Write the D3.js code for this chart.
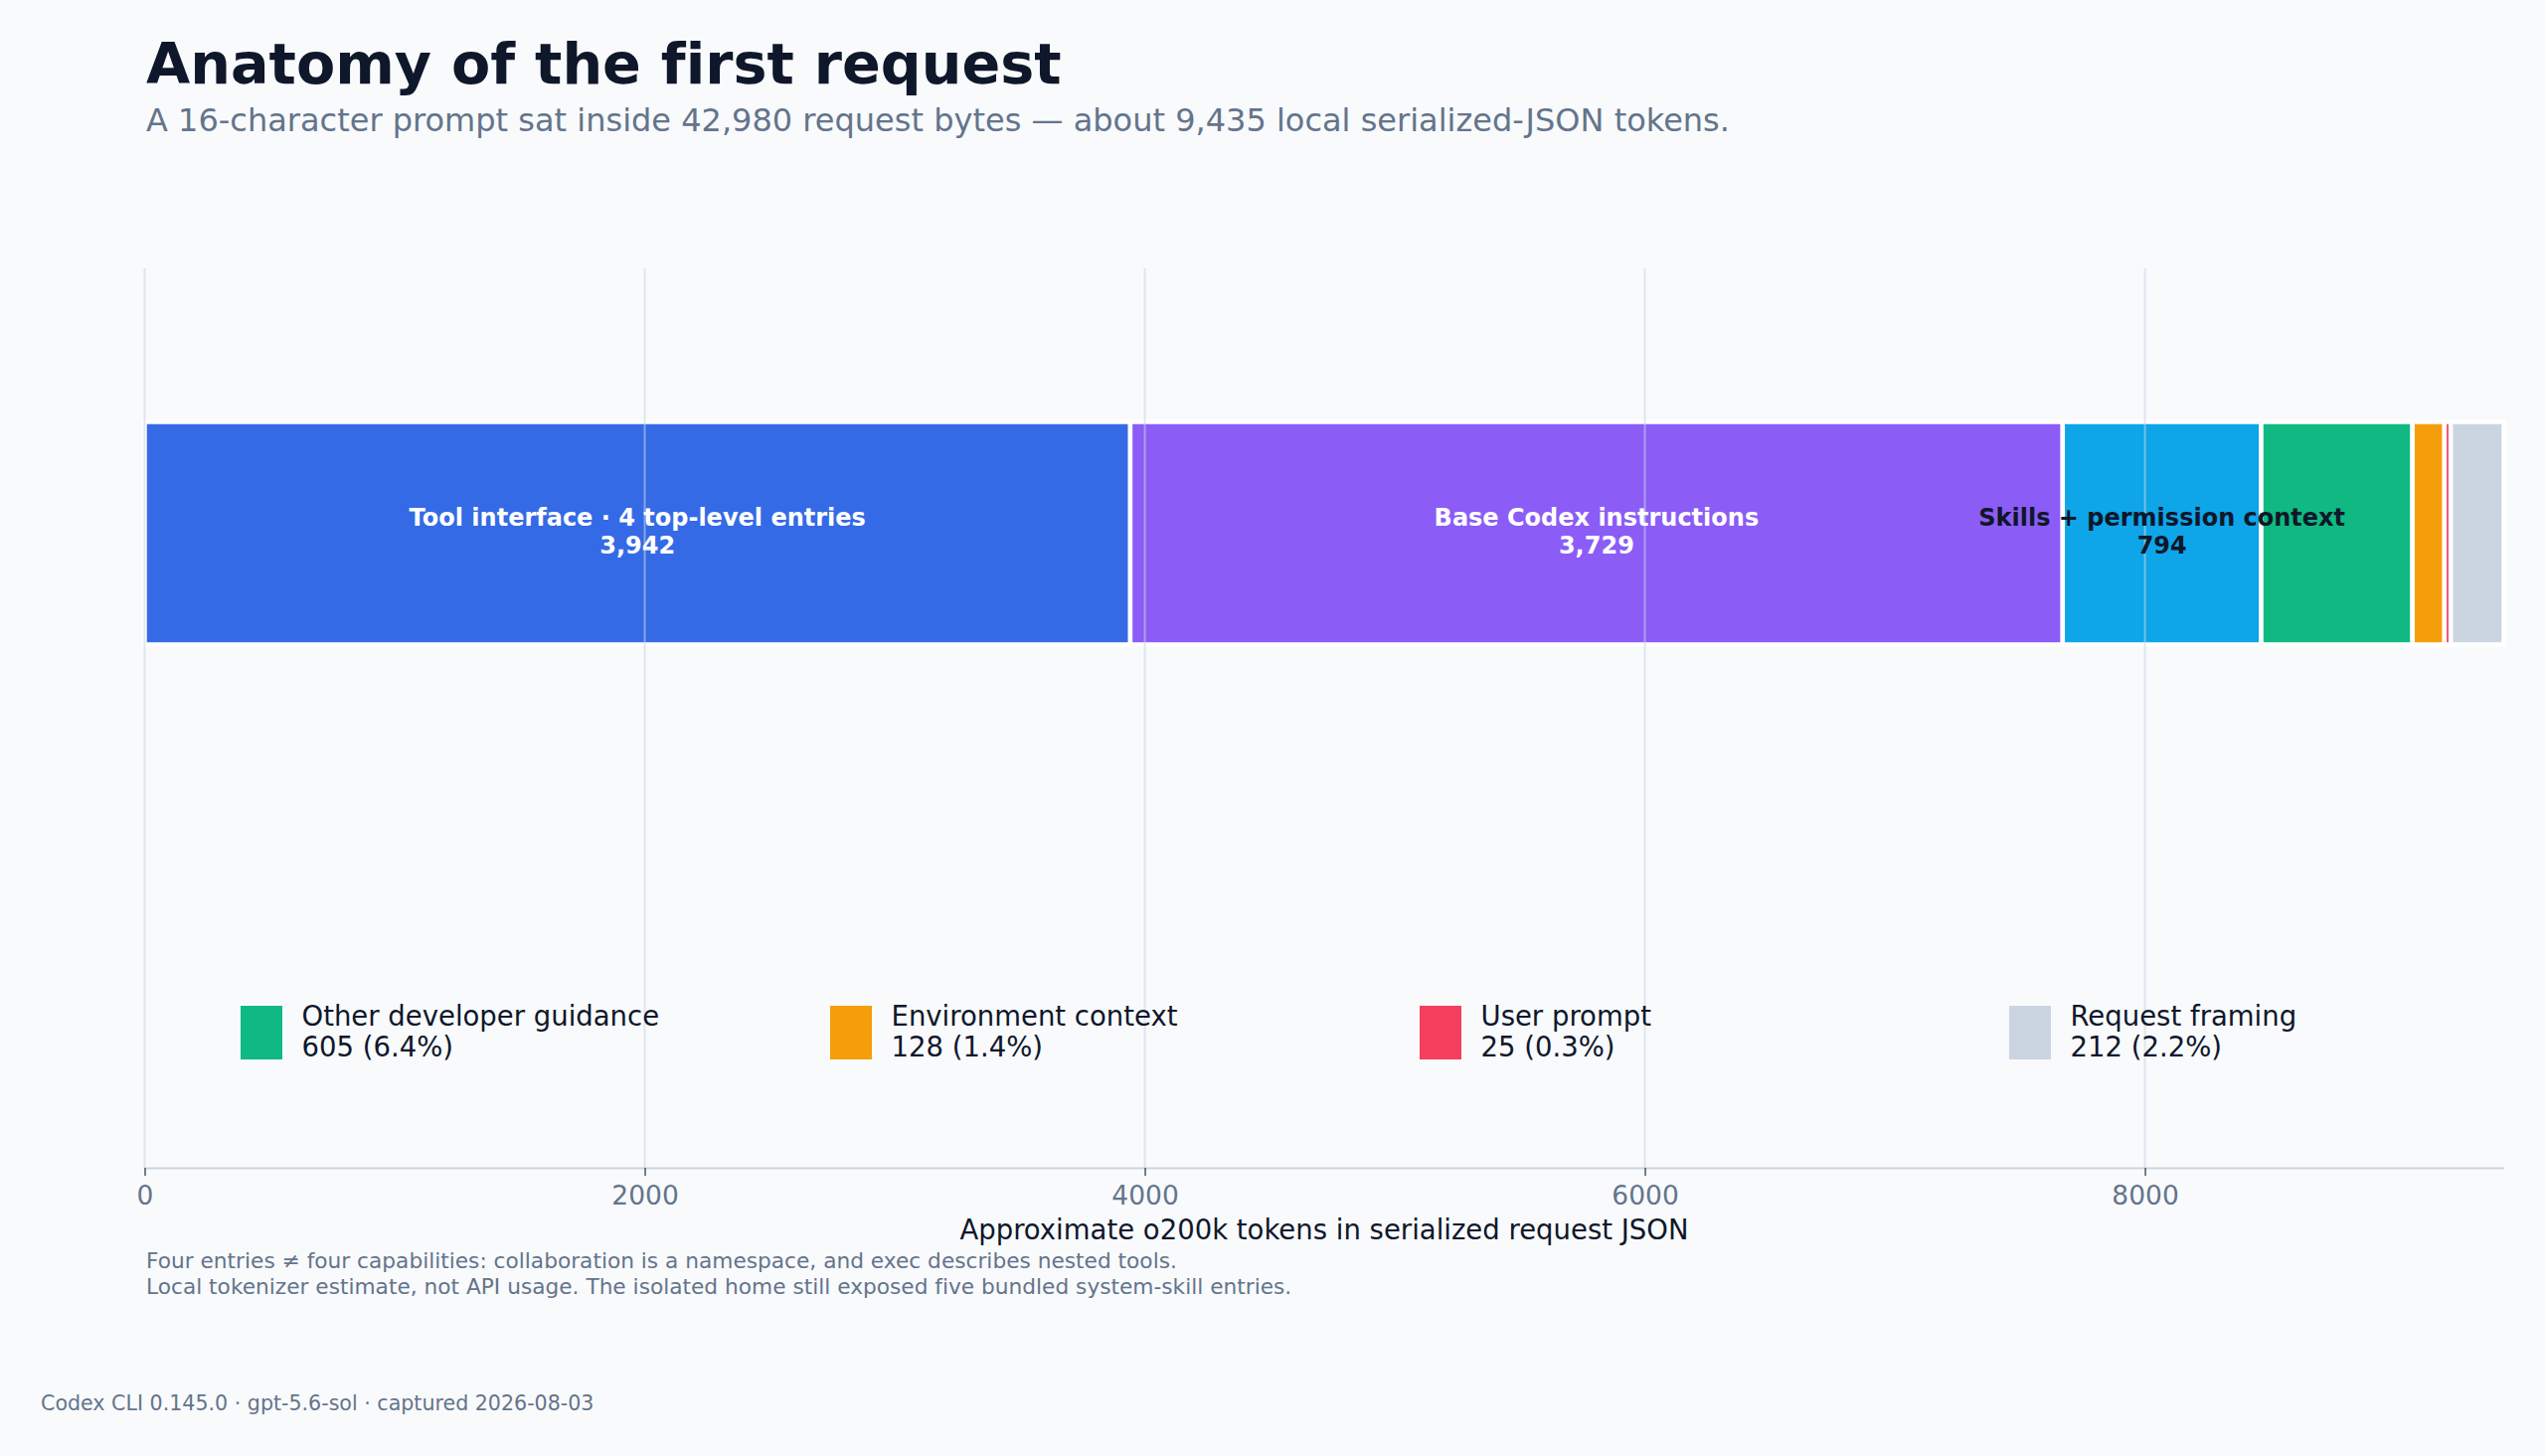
<!DOCTYPE html>
<html>
<head>
<meta charset="utf-8">
<script src="https://cdn.jsdelivr.net/npm/d3@7"></script>
<style>
  html, body { margin: 0; padding: 0; background: #f8fafc; }
  svg { display: block; font-family: "DejaVu Sans", sans-serif; font-variant-ligatures: none; }
</style>
</head>
<body>
<svg id="chart" width="2560" height="1465"></svg>
<script>
// ---- data ----
const categories = [
  "Tool interface · 4 top-level entries",
  "Base Codex instructions",
  "Skills + permission context",
  "Other developer guidance",
  "Environment context",
  "User prompt",
  "Request framing"
];
const tokenValues = [3942, 3729, 794, 605, 128, 25, 212];
const segmentColors = ["#356ae6", "#8b5cf6", "#0ea5e9", "#10b981", "#f59e0b", "#f43f5e", "#cbd5e1"];
const inlineLabelColors = ["#ffffff", "#ffffff", "#0f172a", null, null, null, null];
const xTickValues = [0, 2000, 4000, 6000, 8000];

const titleText = "Anatomy of the first request";
const subtitleText = "A 16-character prompt sat inside 42,980 request bytes — about 9,435 local serialized-JSON tokens.";
const xAxisLabel = "Approximate o200k tokens in serialized request JSON";
const footnotes = [
  "Four entries ≠ four capabilities: collaboration is a namespace, and exec describes nested tools.",
  "Local tokenizer estimate, not API usage. The isolated home still exposed five bundled system-skill entries."
];
const creditText = "Codex CLI 0.145.0 · gpt-5.6-sol · captured 2026-08-03";

// ---- build ----
const total = d3.sum(tokenValues);
let acc = 0;
const segments = categories.map((c, i) => {
  const s = { name: c, value: tokenValues[i], start: acc, color: segmentColors[i], labelColor: inlineLabelColors[i] };
  acc += tokenValues[i];
  s.end = acc;
  return s;
});

const svg = d3.select("#chart");
svg.append("rect").attr("width", 2560).attr("height", 1465).attr("fill", "#f8fafc");

const plotTop = 270, plotBottom = 1175;
const x = d3.scaleLinear().domain([0, total]).range([145.5, 2518.5]);
const y = d3.scaleBand().domain(["request"]).range([424.5, 648.5]);

// bars
svg.append("g").selectAll("rect").data(segments).join("rect")
  .attr("x", d => x(d.start))
  .attr("width", d => x(d.end) - x(d.start))
  .attr("y", y("request"))
  .attr("height", y.bandwidth())
  .attr("fill", d => d.color)
  .attr("stroke", "#ffffff")
  .attr("stroke-width", 4.5);

// grid (on top, translucent)
svg.append("g").selectAll("line").data(xTickValues).join("line")
  .attr("x1", d => x(d)).attr("x2", d => x(d))
  .attr("y1", plotTop).attr("y2", plotBottom)
  .attr("stroke", "#cbd5e1").attr("stroke-width", 2).attr("stroke-opacity", 0.55);

// inline labels
const cy = y("request") + y.bandwidth() / 2;
const lab = svg.append("g").selectAll("text").data(segments.filter(d => d.labelColor)).join("text")
  .attr("text-anchor", "middle")
  .attr("font-size", 24).attr("font-weight", "bold")
  .attr("fill", d => d.labelColor);
lab.append("tspan").attr("x", d => x((d.start + d.end) / 2)).attr("y", cy - 7.5).text(d => d.name);
lab.append("tspan").attr("x", d => x((d.start + d.end) / 2)).attr("y", cy + 20.5).text(d => d3.format(",")(d.value));

// axis
const axis = d3.axisBottom(x).tickValues(xTickValues).tickFormat(d3.format("d")).tickSize(8).tickSizeOuter(0).tickPadding(10);
const gx = svg.append("g").attr("transform", `translate(0,${plotBottom})`).call(axis);
gx.select(".domain").attr("stroke", "#cbd5e1").attr("stroke-width", 1.8);
gx.selectAll(".tick line").attr("stroke", "#475569").attr("stroke-width", 1.5);
gx.selectAll(".tick text").attr("fill", "#64748b").attr("font-size", 26.5)
  .attr("font-family", "DejaVu Sans").attr("dy", null).attr("y", 37);

svg.append("text").attr("x", (x.range()[0] + x.range()[1]) / 2).attr("y", 1247)
  .attr("text-anchor", "middle").attr("font-size", 27.5).attr("fill", "#0f172a").text(xAxisLabel);

// legend
const legendItems = segments.filter(d => !d.labelColor);
const lx = d3.scaleBand().domain(legendItems.map(d => d.name)).range([242, 242 + 593 * legendItems.length]);
const lg = svg.append("g").selectAll("g").data(legendItems).join("g")
  .attr("transform", d => `translate(${lx(d.name)},1012)`);
lg.append("rect").attr("width", 42).attr("height", 54).attr("fill", d => d.color);
const lt = lg.append("text").attr("font-size", 27.5).attr("fill", "#0f172a");
lt.append("tspan").attr("x", 61.5).attr("y", 20).text(d => d.name);
lt.append("tspan").attr("x", 61.5).attr("y", 51)
  .text(d => `${d3.format(",")(d.value)} (${(d.value / total * 100).toFixed(1)}%)`);

// titles
svg.append("text").attr("x", 147).attr("y", 84).attr("font-size", 57.2).attr("font-weight", "bold")
  .attr("fill", "#0f172a").text(titleText);
svg.append("text").attr("x", 147).attr("y", 132).attr("font-size", 32)
  .attr("fill", "#64748b").text(subtitleText);

// footnotes
svg.append("g").selectAll("text").data(footnotes).join("text")
  .attr("x", 147).attr("y", (d, i) => 1276 + i * 26)
  .attr("font-size", 21.7).attr("fill", "#64748b").text(d => d);

svg.append("text").attr("x", 41).attr("y", 1419).attr("font-size", 20.6)
  .attr("fill", "#64748b").text(creditText);
</script>
</body>
</html>
